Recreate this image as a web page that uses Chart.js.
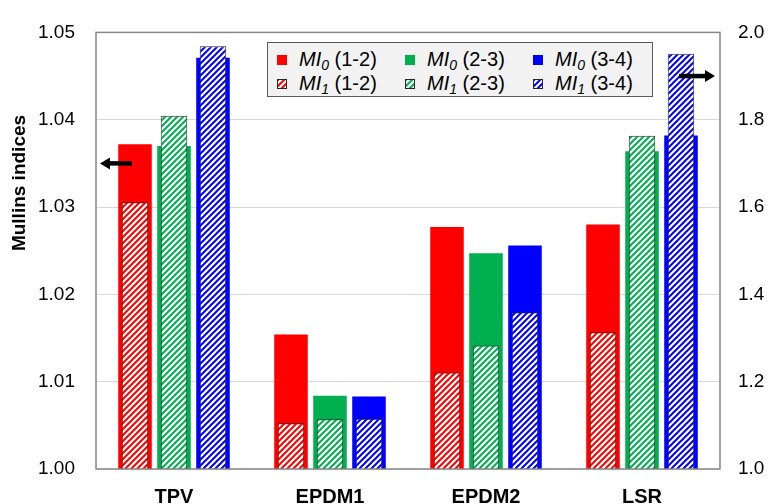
<!DOCTYPE html>
<html lang="en">
<head>
<meta charset="UTF-8">
<title>Mullins indices</title>
<script src="https://cdn.jsdelivr.net/npm/chart.js"></script>
<style>
  body { margin: 0; background: #fff; font-family: 'Liberation Sans', Arial, sans-serif; }
  .wrap { position: relative; width: 770px; height: 504px; }
  .y-title {
    position: absolute; left: -81px; top: 172px; width: 200px;
    line-height: 22px; text-align: center; font-weight: bold; font-size: 19px;
    color: #000; transform: rotate(-90deg);
  }
  .legend {
    position: absolute; left: 267px; top: 42px; width: 384px; height: 53px;
    background: #f2f2f2; border: 1px solid #595959;
  }
  .legend .item { position: absolute; font-size: 20px; line-height: 22px; white-space: nowrap; color: #000; }
  .legend .box { display: inline-block; width: 10px; height: 10px; margin-right: 12px; vertical-align: 1px; box-sizing: border-box; }
  .legend .sub { font-size: 14px; position: relative; top: 4px; }
</style>
</head>
<body>
<div class="wrap">
  <canvas id="chart" width="770" height="504"></canvas>
  <div class="y-title">Mullins indices</div>
  <div class="legend" id="legend"></div>
</div>
<script>
// categories and values
const categories = ['TPV', 'EPDM1', 'EPDM2', 'LSR'];
const ranges = ['1-2', '2-3', '3-4'];

// MI0, left axis
const mi0_12 = [1.0372, 1.0154, 1.0277, 1.0280];
const mi0_23 = [1.0370, 1.0084, 1.0247, 1.0364];
const mi0_34 = [1.0471, 1.0083, 1.0256, 1.0382];

// MI1, right axis
const mi1_12 = [1.611, 1.105, 1.221, 1.313];
const mi1_23 = [1.809, 1.114, 1.283, 1.763];
const mi1_34 = [1.968, 1.115, 1.359, 1.951];

const leftTicks = { min: 1.00, max: 1.05, step: 0.01 };
const rightTicks = { min: 1.0, max: 2.0, step: 0.2 };

// where the axis arrows sit (in axis units)
const arrowLeftAt = 1.035;
const arrowRightAt = 1.9;

const colors = ['#ff0000', '#00b050', '#0000ff'];
const mi0 = [mi0_12, mi0_23, mi0_34];
const mi1 = [mi1_12, mi1_23, mi1_34];

function hatchCanvas(color) {
    const c = document.createElement('canvas');
    c.width = 6; c.height = 6;
    const g = c.getContext('2d');
    g.fillStyle = '#fff';
    g.fillRect(0, 0, 6, 6);
    g.strokeStyle = color;
    g.lineWidth = 2;
    g.beginPath();
    g.moveTo(0, 6); g.lineTo(6, 0);
    g.moveTo(-3, 3); g.lineTo(3, -3);
    g.moveTo(3, 9); g.lineTo(9, 3);
    g.stroke();
    return c;
}

const ctx = document.getElementById('chart').getContext('2d');
const hatches = colors.map(hatchCanvas);

let datasets = [];
ranges.forEach((r, i) => {
    datasets.push({
        label: 'MI0 (' + r + ')',
        data: mi0[i],
        yAxisID: 'y',
        stack: 's' + i,
        backgroundColor: colors[i],
        borderWidth: 0,
        barPercentage: 0.86,
        categoryPercentage: 0.75,
        order: 1
    });
});
ranges.forEach((r, i) => {
    datasets.push({
        label: 'MI1 (' + r + ')',
        data: mi1[i],
        yAxisID: 'y2',
        stack: 's' + i,
        backgroundColor: ctx.createPattern(hatches[i], 'repeat'),
        borderColor: '#262626',
        borderWidth: 1,
        borderSkipped: false,
        barPercentage: 0.68,
        categoryPercentage: 0.75,
        order: 0
    });
});

function drawArrow(c, x0, x1, y) {
    const dir = x1 > x0 ? 1 : -1;
    c.beginPath();
    c.moveTo(x0, y);
    c.lineTo(x1 - dir * 8, y);
    c.lineWidth = 4.5;
    c.strokeStyle = '#000';
    c.stroke();
    c.beginPath();
    c.moveTo(x1, y);
    c.lineTo(x1 - dir * 10, y - 6);
    c.lineTo(x1 - dir * 10, y + 6);
    c.closePath();
    c.fillStyle = '#000';
    c.fill();
}

const framePlugin = {
    id: 'frame',
    afterDraw(chart) {
        const { ctx: c, chartArea: a, scales } = chart;
        c.save();
        c.strokeStyle = '#868686';
        c.lineWidth = 1.5;
        c.strokeRect(a.left, a.top, a.right - a.left, a.bottom - a.top);
        drawArrow(c, a.left + 36, a.left + 4, scales.y.getPixelForValue(arrowLeftAt));
        drawArrow(c, a.right - 41, a.right - 5, scales.y2.getPixelForValue(arrowRightAt));
        c.restore();
    }
};

const tickFont = { family: "'Liberation Sans', Arial, sans-serif", size: 19 };

new Chart(ctx, {
    type: 'bar',
    data: { labels: categories, datasets: datasets },
    options: {
        responsive: false,
        animation: false,
        layout: { padding: { top: 25, left: 0, right: 0, bottom: 0 } },
        plugins: { legend: { display: false }, tooltip: { enabled: false } },
        scales: {
            x: {
                grid: { display: false, drawTicks: false },
                border: { display: false },
                ticks: { color: '#000', padding: 16, font: { family: tickFont.family, size: 20, weight: 'bold' } },
                afterFit: s => { s.height = 35; }
            },
            y: {
                position: 'left',
                stacked: false,
                min: leftTicks.min,
                max: leftTicks.max,
                grid: { color: '#d9d9d9', lineWidth: 1, drawTicks: false },
                border: { display: false },
                ticks: {
                    stepSize: leftTicks.step,
                    color: '#000',
                    padding: 21,
                    font: tickFont,
                    callback: v => v.toFixed(2)
                },
                afterFit: s => { s.width = 96; }
            },
            y2: {
                position: 'right',
                stacked: false,
                min: rightTicks.min,
                max: rightTicks.max,
                grid: { display: false, drawTicks: false },
                border: { display: false },
                ticks: {
                    stepSize: rightTicks.step,
                    color: '#000',
                    padding: 18,
                    font: tickFont,
                    callback: v => v.toFixed(1)
                },
                afterFit: s => { s.width = 50; }
            }
        }
    },
    plugins: [framePlugin]
});

// legend: MI0 row on top, MI1 row below, one column per range
const legend = document.getElementById('legend');
[0, 1].forEach(row => {
    ranges.forEach((r, i) => {
        const item = document.createElement('div');
        item.className = 'item';
        item.style.left = (9 + 128 * i) + 'px';
        item.style.top = (5 + 24 * row) + 'px';
        const box = document.createElement('span');
        box.className = 'box';
        if (row === 0) {
            box.style.background = colors[i];
        } else {
            box.style.backgroundImage = 'url(' + hatches[i].toDataURL() + ')';
            box.style.border = '1px solid #262626';
        }
        item.appendChild(box);
        const txt = document.createElement('span');
        txt.innerHTML = '<i>MI<span class="sub">' + row + '</span></i> (' + r + ')';
        item.appendChild(txt);
        legend.appendChild(item);
    });
});
</script>
</body>
</html>
